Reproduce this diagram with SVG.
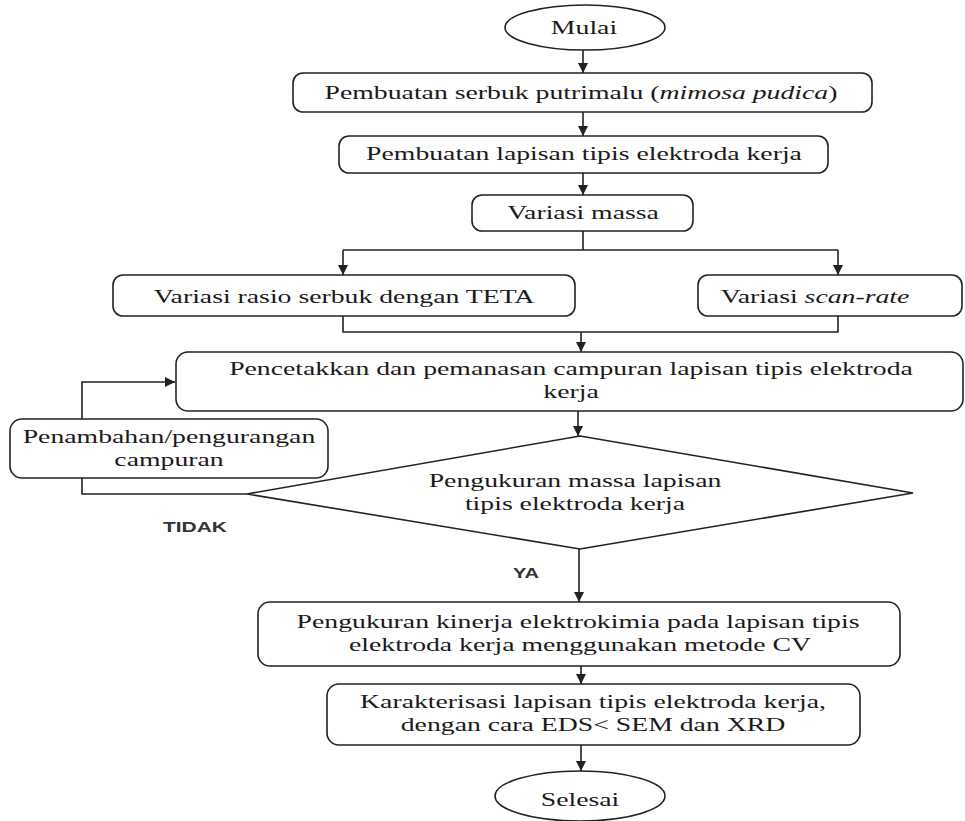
<svg xmlns="http://www.w3.org/2000/svg" width="965" height="821" viewBox="0 0 965 821">
<style>
.s{fill:#fff;stroke:#222;stroke-width:1.6}
.c{fill:none;stroke:#222;stroke-width:1.6}
.t{font-family:"Liberation Serif","Times New Roman",serif;font-size:19px;fill:#1a1a1a;text-anchor:middle}
.b{font-family:"Liberation Sans",Arial,sans-serif;font-size:15px;font-weight:bold;fill:#333}
.i{font-style:italic}
</style>
<defs>
<marker id="ah" markerUnits="userSpaceOnUse" markerWidth="11" markerHeight="11" refX="10" refY="5" orient="auto">
<path d="M0,0 L10,5 L0,10 z" fill="#222"/>
</marker>
</defs>
<rect width="965" height="821" fill="#fff"/>
<g id="connectors">
<line class="c" x1="583" y1="50" x2="583" y2="73" marker-end="url(#ah)"/>
<line class="c" x1="583" y1="112" x2="583" y2="136" marker-end="url(#ah)"/>
<line class="c" x1="583" y1="173" x2="583" y2="195" marker-end="url(#ah)"/>
<line class="c" x1="583" y1="231" x2="583" y2="250"/>
<line class="c" x1="343" y1="250" x2="838" y2="250"/>
<line class="c" x1="343" y1="250" x2="343" y2="275" marker-end="url(#ah)"/>
<line class="c" x1="838" y1="250" x2="838" y2="275" marker-end="url(#ah)"/>
<polyline class="c" points="343,316 343,332 838,332 838,316"/>
<line class="c" x1="581" y1="332" x2="581" y2="352" marker-end="url(#ah)"/>
<line class="c" x1="578" y1="411" x2="578" y2="436" marker-end="url(#ah)"/>
<polyline class="c" points="247,494 82,494 82,382 175,382" marker-end="url(#ah)"/>
<line class="c" x1="579" y1="549" x2="579" y2="602" marker-end="url(#ah)"/>
<line class="c" x1="581" y1="666" x2="581" y2="684" marker-end="url(#ah)"/>
<line class="c" x1="581" y1="745" x2="581" y2="771" marker-end="url(#ah)"/>
<text class="b" x="163" y="532" textLength="64" lengthAdjust="spacingAndGlyphs">TIDAK</text>
<text class="b" x="513" y="578" textLength="26" lengthAdjust="spacingAndGlyphs">YA</text>
</g>
<g id="mulai">
<ellipse class="s" cx="585" cy="27.5" rx="80" ry="22.5"/>
<text class="t" transform="translate(584 34) scale(1.46 1)">Mulai</text>
</g>
<g id="serbuk">
<rect class="s" x="293" y="73" width="579" height="39" rx="10"/>
<text class="t" transform="translate(581 99) scale(1.46 1)">Pembuatan serbuk putrimalu (<tspan class="i">mimosa pudica</tspan>)</text>
</g>
<g id="lapisan">
<rect class="s" x="339" y="136" width="489" height="37" rx="10"/>
<text class="t" transform="translate(584 160) scale(1.46 1)">Pembuatan lapisan tipis elektroda kerja</text>
</g>
<g id="massa">
<rect class="s" x="472" y="195" width="221" height="36" rx="10"/>
<text class="t" transform="translate(583 219) scale(1.46 1)">Variasi massa</text>
</g>
<g id="rasio">
<rect class="s" x="113" y="275" width="462" height="41" rx="10"/>
<text class="t" transform="translate(344 303) scale(1.46 1)">Variasi rasio serbuk dengan TETA</text>
</g>
<g id="scanrate">
<rect class="s" x="698" y="275" width="264" height="41" rx="10"/>
<text class="t" transform="translate(815 303) scale(1.46 1)">Variasi <tspan class="i">scan-rate</tspan></text>
</g>
<g id="pencetakkan">
<rect class="s" x="176" y="352" width="787" height="59" rx="12"/>
<text class="t" transform="translate(571 375) scale(1.46 1)">Pencetakkan dan pemanasan campuran lapisan tipis elektroda</text>
<text class="t" transform="translate(571 398) scale(1.46 1)">kerja</text>
</g>
<g id="penambahan">
<rect class="s" x="10" y="419" width="318" height="59" rx="12"/>
<text class="t" transform="translate(169 443) scale(1.46 1)">Penambahan/pengurangan</text>
<text class="t" transform="translate(169 466) scale(1.46 1)">campuran</text>
</g>
<g id="pengukuran-massa">
<polygon class="s" points="580,436 913,493 580,549 247,494"/>
<text class="t" transform="translate(575 487) scale(1.46 1)">Pengukuran massa lapisan</text>
<text class="t" transform="translate(575 510) scale(1.46 1)">tipis elektroda kerja</text>
</g>
<g id="kinerja">
<rect class="s" x="258" y="602" width="642" height="64" rx="12"/>
<text class="t" transform="translate(578 628) scale(1.46 1)">Pengukuran kinerja elektrokimia pada lapisan tipis</text>
<text class="t" transform="translate(580 651) scale(1.46 1)">elektroda kerja menggunakan metode CV</text>
</g>
<g id="karakterisasi">
<rect class="s" x="327" y="684" width="533" height="61" rx="12"/>
<text class="t" transform="translate(593 708) scale(1.46 1)">Karakterisasi lapisan tipis elektroda kerja,</text>
<text class="t" transform="translate(593 731) scale(1.46 1)">dengan cara EDS&lt; SEM dan XRD</text>
</g>
<g id="selesai">
<ellipse class="s" cx="580" cy="796" rx="85" ry="25"/>
<text class="t" transform="translate(580 806) scale(1.46 1)">Selesai</text>
</g>
</svg>
